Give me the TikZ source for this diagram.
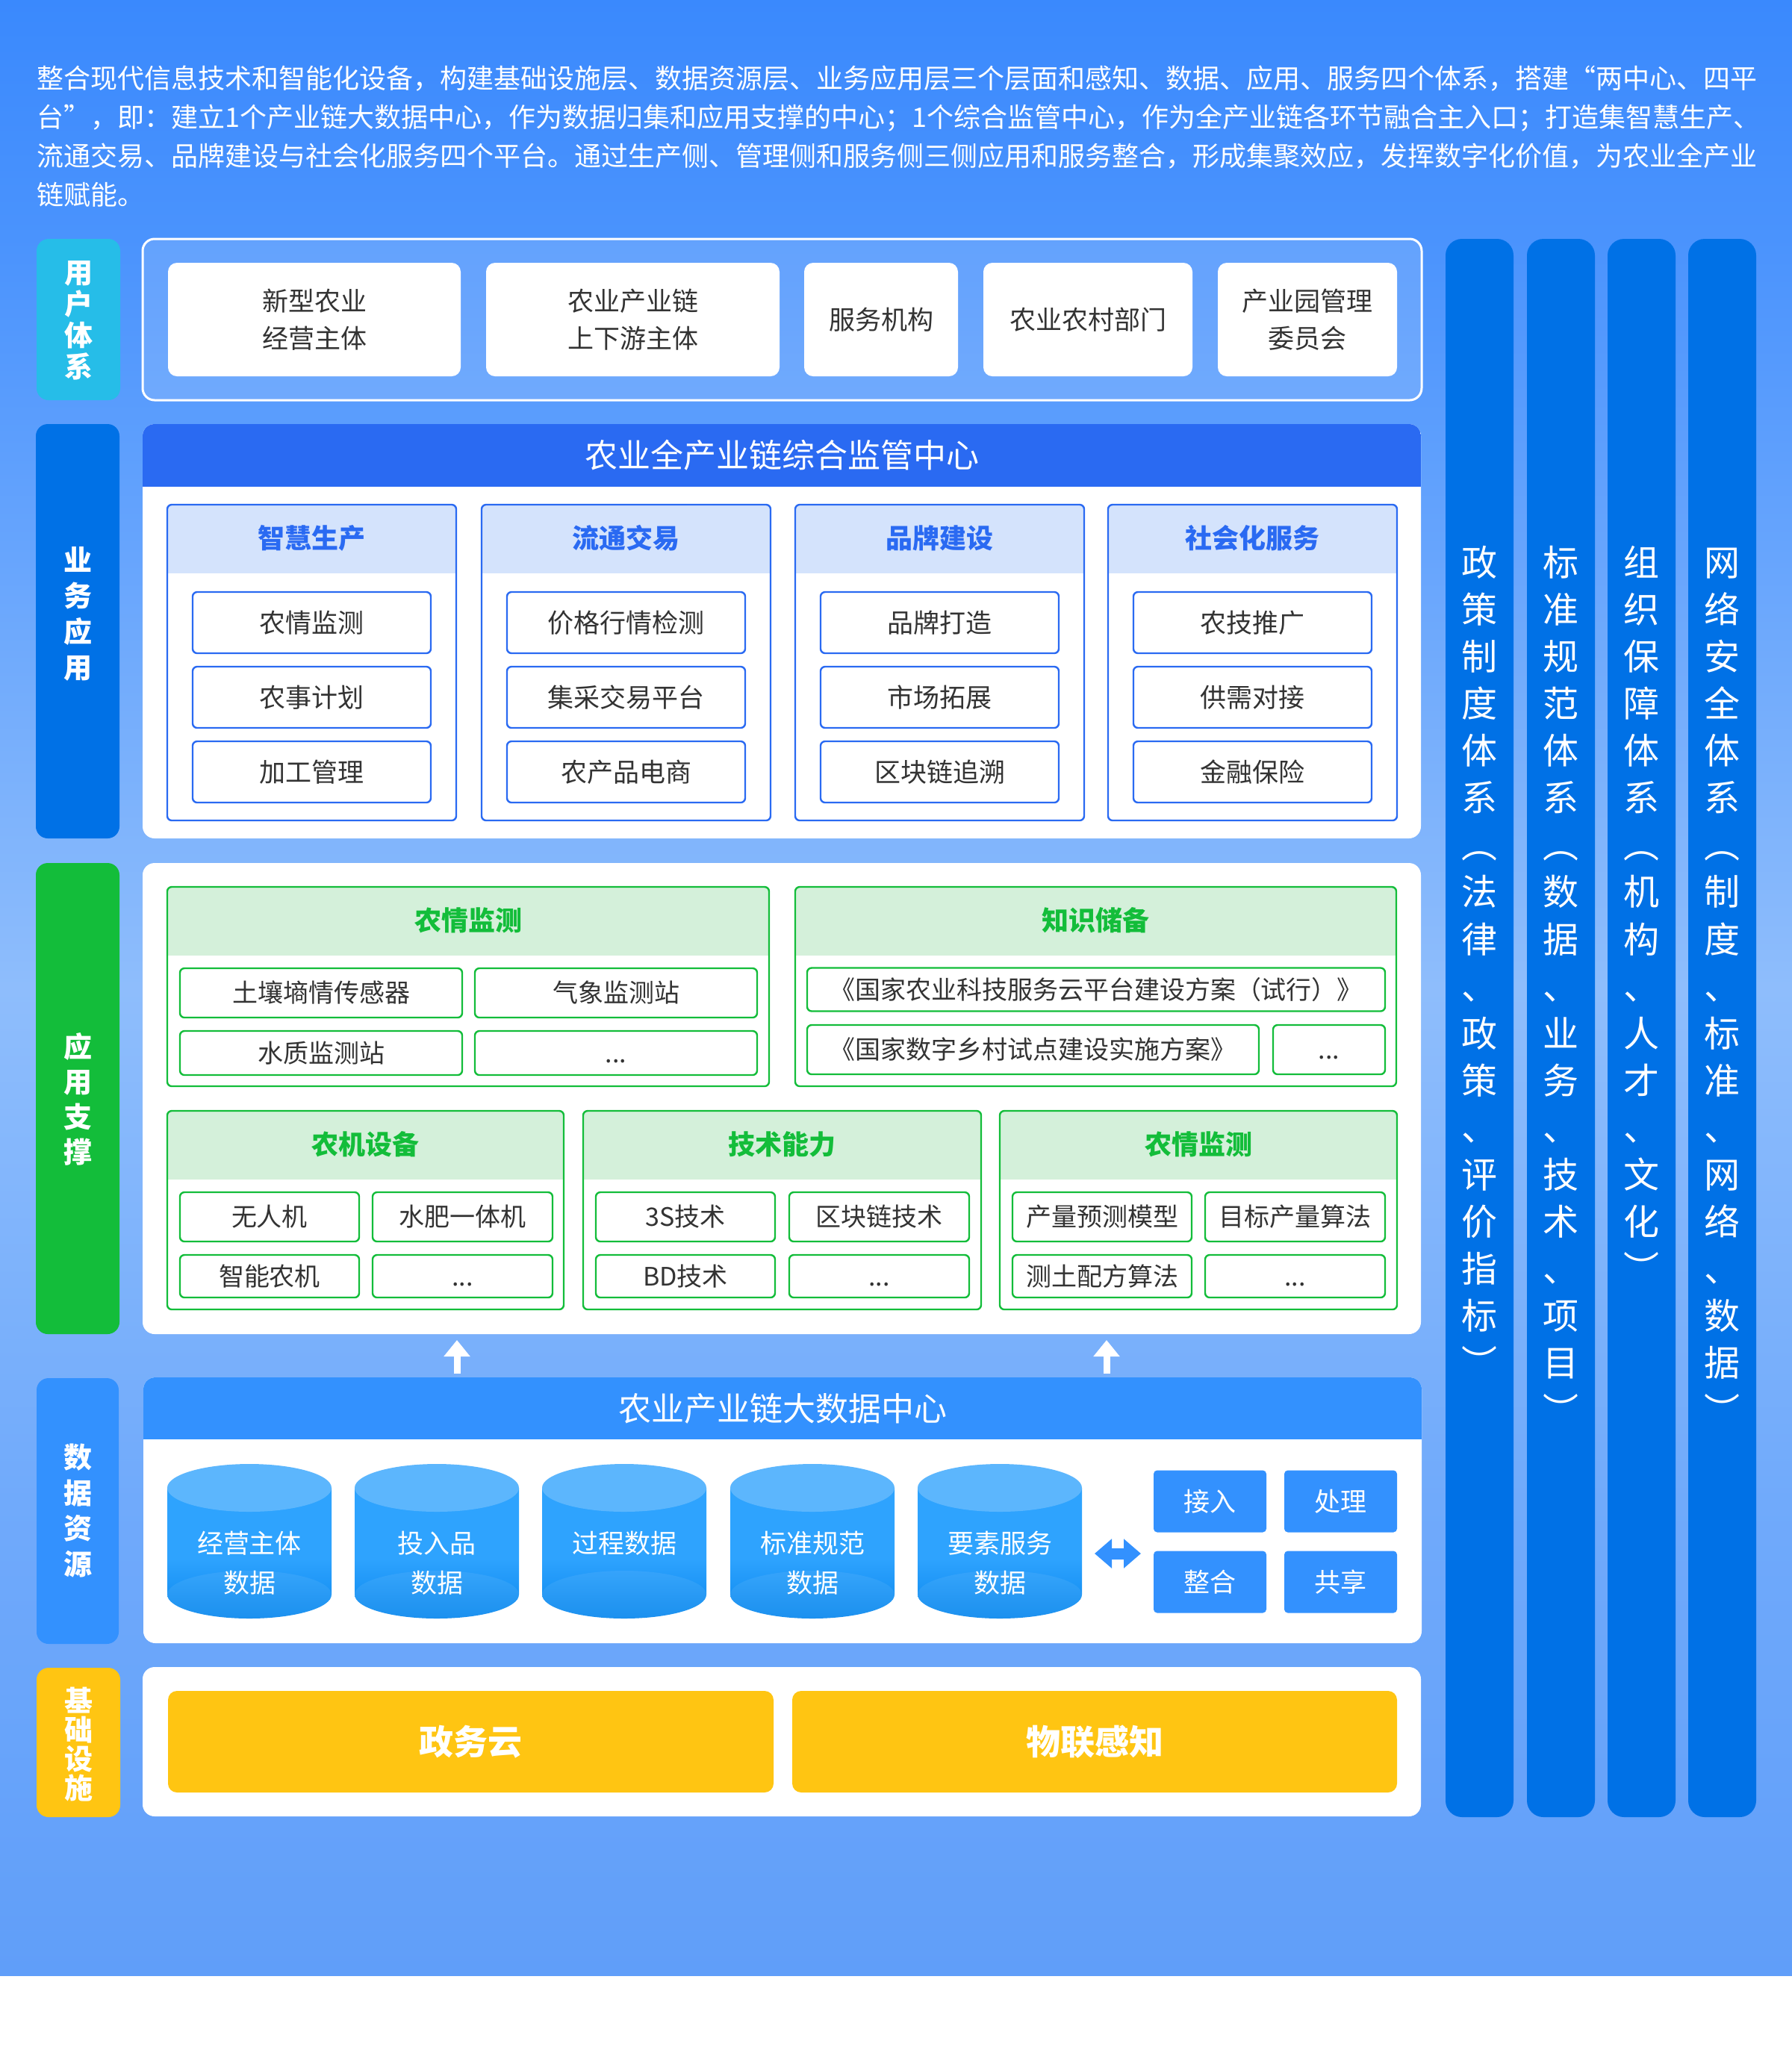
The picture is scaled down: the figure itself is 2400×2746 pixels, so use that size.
\documentclass[tikz,border=0pt]{standalone}
\usepackage{fontspec}
\setmainfont{Noto Sans CJK SC}
\XeTeXlinebreaklocale "zh"
\XeTeXlinebreakskip=0pt plus 1pt
\usetikzlibrary{arrows.meta}

\definecolor{bgA}{RGB}{58,137,253}
\definecolor{bgB}{RGB}{74,147,253}
\definecolor{bgC}{RGB}{142,189,252}
\definecolor{bgD}{RGB}{112,170,251}
\definecolor{bgE}{RGB}{96,158,249}
\definecolor{cyanL}{RGB}{38,189,232}
\definecolor{deepB}{RGB}{0,113,230}
\definecolor{hdrB}{RGB}{42,106,242}
\definecolor{lightB}{RGB}{212,227,252}
\definecolor{grn}{RGB}{19,189,58}
\definecolor{lightG}{RGB}{212,240,218}
\definecolor{midB}{RGB}{51,145,254}
\definecolor{cylTop}{RGB}{92,182,253}
\definecolor{cylBody}{RGB}{46,163,254}
\definecolor{cylDark}{RGB}{10,136,238}
\definecolor{yel}{RGB}{255,197,18}
\definecolor{txt}{RGB}{51,51,51}

\pgfdeclareverticalshading{bgshade}{100bp}{color(0bp)=(bgE); color(25bp)=(bgE); color(37bp)=(bgD); color(50bp)=(bgC); color(69bp)=(bgB); color(75bp)=(bgA); color(100bp)=(bgA)}
\pgfdeclareverticalshading{cylshade}{100bp}{color(0bp)=(cylDark); color(25bp)=(cylDark); color(48bp)=(cylBody); color(100bp)=(cylBody)}

\newcommand\myfs[2]{\fontsize{#1}{#2}\selectfont}
% group box: x0 y0 x1 y1 yheader border headfill radius
\newcommand\grpbox[8]{%
  \fill[white, rounded corners=#8] (#1,#2) rectangle (#3,#4);
  \begin{scope}
    \clip[rounded corners=#8] (#1,#2) rectangle (#3,#4);
    \fill[#7] (#1,#2) rectangle (#3,#5);
  \end{scope}
  \ifx\relax#6\relax\else
  \draw[#6, line width=0.6pt, rounded corners=#8] (#1,#2) rectangle (#3,#4);
  \fi}

\tikzset{
  cjk/.style={font=\myfs{#1}{#1}, text height={0.88*#1}, text depth={0.12*#1}, inner sep=0pt},
  cjkb/.style={font=\myfs{#1}{#1}\bfseries, text height={0.88*#1}, text depth={0.12*#1}, inner sep=0pt},
  useritem/.style={fill=white, rounded corners=3pt, inner sep=0pt, font=\myfs{8.75pt}{12.5pt}, text=txt, align=center, minimum height=38pt},
  bitem/.style={cjk=8.75pt, draw=hdrB, line width=0.6pt, fill=white, rounded corners=1.5pt, minimum width=79.75pt, minimum height=20.5pt, text=txt},
  gitem/.style={cjk=8.5pt, draw=grn, line width=0.6pt, fill=white, rounded corners=1.5pt, text=txt},
  bhead/.style={cjkb=9pt, text=hdrB},
  ghead/.style={cjkb=9pt, text=grn},
  ttl/.style={cjk=11pt, text=white},
  vlab/.style={cjkb=9.5pt, text=white},
  coltxt/.style={cjk=12pt, text=white},
  cyltxt/.style={cjk=8.75pt, text=white},
  sbox/.style={cjk=8.75pt, text=white, fill=midB, rounded corners=1.2pt, minimum width=37.75pt, minimum height=20.75pt},
  ybox/.style={cjkb=11.5pt, text=white, fill=yel, rounded corners=3pt, minimum height=34pt},
  para/.style={cjk=9pt, text=white, anchor=west},
  uparrow/.style={white, line width=2.25pt, -{Triangle[length=5.5pt,width=8.5pt]}},
  dblarrow/.style={midB, line width=3.75pt, {Triangle[length=5.75pt,width=9.5pt]}-{Triangle[length=5.75pt,width=9.5pt]}}
}

\begin{document}
\begin{tikzpicture}[x=0.25pt,y=-0.25pt]
\useasboundingbox (0,0) rectangle (2400,2746);
\fill[white] (0,0) rectangle (2400,2746);
\shade[shading=bgshade] (0,0) rectangle (2400,2646);

% ---------- intro paragraph ----------
\node[para] (p1) at (49,105) {\hbox to 575.25pt{整合现代信息技术和智能化设备，构建基础设施层、数据资源层、业务应用层三个层面和感知、数据、应用、服务四个体系，搭建“两中心、四平}};
\node[para] (p2) at (49,157) {\hbox to 575.25pt{台”，即：建立1个产业链大数据中心，作为数据归集和应用支撑的中心；1个综合监管中心，作为全产业链各环节融合主入口；打造集智慧生产、}};
\node[para] (p3) at (49,209) {\hbox to 575.25pt{流通交易、品牌建设与社会化服务四个平台。通过生产侧、管理侧和服务侧三侧应用和服务整合，形成集聚效应，发挥数字化价值，为农业全产业}};
\node[para] (p4) at (49,261) {链赋能。};

% ---------- right columns ----------
\foreach \xa/\xb in {1936/2027,2045/2136,2153/2244,2261/2352}
  \fill[deepB, rounded corners=5.5pt] (\xa,320) rectangle (\xb,2434);
\foreach \ch [count=\i from 0] in {政,策,制,度,体,系,︵,法,律,、,政,策,、,评,价,指,标,︶}
  \node[coltxt] (ca\i) at (1981.5,{753+63.1*\i}) {\ch};
\foreach \ch [count=\i from 0] in {标,准,规,范,体,系,︵,数,据,、,业,务,、,技,术,、,项,目,︶}
  \node[coltxt] (cb\i) at (2090.5,{753+63.1*\i}) {\ch};
\foreach \ch [count=\i from 0] in {组,织,保,障,体,系,︵,机,构,、,人,才,、,文,化,︶}
  \node[coltxt] (cc\i) at (2198.5,{753+63.1*\i}) {\ch};
\foreach \ch [count=\i from 0] in {网,络,安,全,体,系,︵,制,度,、,标,准,、,网,络,、,数,据,︶}
  \node[coltxt] (cd\i) at (2306.5,{753+63.1*\i}) {\ch};

% ---------- left labels ----------
\fill[cyanL, rounded corners=4pt] (49,320) rectangle (161,536);
\foreach \ch [count=\i from 0] in {用,户,体,系}
  \node[vlab] (lu\i) at (105,{365+42*\i}) {\ch};
\fill[deepB, rounded corners=4pt] (48,568) rectangle (160,1123);
\foreach \ch [count=\i from 0] in {业,务,应,用}
  \node[vlab] (lb\i) at (104,{750+48*\i}) {\ch};
\fill[grn, rounded corners=4pt] (48,1156) rectangle (160,1787);
\foreach \ch [count=\i from 0] in {应,用,支,撑}
  \node[vlab] (ls\i) at (104,{1402+47*\i}) {\ch};
\fill[midB, rounded corners=4pt] (49,1846) rectangle (159,2202);
\foreach \ch [count=\i from 0] in {数,据,资,源}
  \node[vlab] (ld\i) at (104,{1952+47.7*\i}) {\ch};
\fill[yel, rounded corners=4pt] (49,2234) rectangle (161,2434);
\foreach \ch [count=\i from 0] in {基,础,设,施}
  \node[vlab] (li\i) at (105,{2278+39*\i}) {\ch};

% ---------- user layer ----------
\draw[white, line width=0.75pt, fill=white, fill opacity=0.14, rounded corners=4pt] (191,320) rectangle (1904,536);
\node[useritem, minimum width=98pt] (u1) at (421,428) {新型农业\\经营主体};
\node[useritem, minimum width=98.25pt] (u2) at (847.5,428) {农业产业链\\上下游主体};
\node[useritem, minimum width=51.5pt] (u3) at (1180,428) {服务机构};
\node[useritem, minimum width=70pt] (u4) at (1457,428) {农业农村部门};
\node[useritem, minimum width=60pt] (u5) at (1751,428) {产业园管理\\委员会};

% ---------- business layer ----------
\grpbox{191}{568}{1903}{1123}{652}{}{hdrB}{4pt}
\node[ttl] (btitle) at (1047,610) {农业全产业链综合监管中心};
\foreach \x/\lab [count=\k] in {224/智慧生产,645/流通交易,1065/品牌建设,1484/社会化服务}{
  \grpbox{\x}{676}{\x+387}{1099}{768}{hdrB}{lightB}{1.5pt}
  \node[bhead] (bh\k) at (\x+193.5,721) {\lab};
}
\node[bitem] (b11) at (417.5,834) {农情监测};
\node[bitem] (b12) at (417.5,934) {农事计划};
\node[bitem] (b13) at (417.5,1034) {加工管理};
\node[bitem] (b21) at (838.5,834) {价格行情检测};
\node[bitem] (b22) at (838.5,934) {集采交易平台};
\node[bitem] (b23) at (838.5,1034) {农产品电商};
\node[bitem] (b31) at (1258.5,834) {品牌打造};
\node[bitem] (b32) at (1258.5,934) {市场拓展};
\node[bitem] (b33) at (1258.5,1034) {区块链追溯};
\node[bitem] (b41) at (1677.5,834) {农技推广};
\node[bitem] (b42) at (1677.5,934) {供需对接};
\node[bitem] (b43) at (1677.5,1034) {金融保险};

% ---------- application support layer ----------
\fill[white, rounded corners=4pt] (191,1156) rectangle (1903,1787);
\grpbox{224}{1188}{1030}{1455}{1280}{grn}{lightG}{1.5pt}
\grpbox{1065}{1188}{1870}{1455}{1280}{grn}{lightG}{1.5pt}
\grpbox{224}{1488}{755}{1754}{1580}{grn}{lightG}{1.5pt}
\grpbox{781}{1488}{1314}{1754}{1580}{grn}{lightG}{1.5pt}
\grpbox{1339}{1488}{1871}{1754}{1580}{grn}{lightG}{1.5pt}
\node[ghead] (g1) at (627,1233) {农情监测};
\node[ghead] (g2) at (1467.5,1233) {知识储备};
\node[ghead] (g3) at (489.5,1533) {农机设备};
\node[ghead] (g4) at (1047.5,1533) {技术能力};
\node[ghead] (g5) at (1605,1533) {农情监测};

\node[gitem, minimum width=94.5pt, minimum height=16.5pt] (g11) at (430,1330) {土壤墒情传感器};
\node[gitem, minimum width=94.5pt, minimum height=16.5pt] (g12) at (825,1330) {气象监测站};
\node[gitem, minimum width=94.5pt, minimum height=14.75pt] (g13) at (430,1410.5) {水质监测站};
\node[gitem, minimum width=94.5pt, minimum height=14.75pt] (g14) at (825,1410.5) {...};

\node[gitem, minimum width=193.5pt, minimum height=14.5pt] (g21) at (1468,1325.5) {《国家农业科技服务云平台建设方案（试行）》};
\node[gitem, minimum width=151.25pt, minimum height=16.5pt] (g22) at (1383.5,1406) {《国家数字乡村试点建设实施方案》};
\node[gitem, minimum width=37.5pt, minimum height=16.5pt] (g23) at (1780,1406) {...};

\node[gitem, minimum width=60pt, minimum height=16.5pt] (g31) at (361,1630) {无人机};
\node[gitem, minimum width=60.25pt, minimum height=16.5pt] (g32) at (619.5,1630) {水肥一体机};
\node[gitem, minimum width=60pt, minimum height=14.25pt] (g33) at (361,1709.5) {智能农机};
\node[gitem, minimum width=60.25pt, minimum height=14.25pt] (g34) at (619.5,1709.5) {...};

\node[gitem, minimum width=60pt, minimum height=16.5pt] (g41) at (918,1630) {3S技术};
\node[gitem, minimum width=60.25pt, minimum height=16.5pt] (g42) at (1177.5,1630) {区块链技术};
\node[gitem, minimum width=60pt, minimum height=14.25pt] (g43) at (918,1709.5) {BD技术};
\node[gitem, minimum width=60.25pt, minimum height=14.25pt] (g44) at (1177.5,1709.5) {...};

\node[gitem, minimum width=60pt, minimum height=16.5pt] (g51) at (1476,1630) {产量预测模型};
\node[gitem, minimum width=60.25pt, minimum height=16.5pt] (g52) at (1734.5,1630) {目标产量算法};
\node[gitem, minimum width=60pt, minimum height=14.25pt] (g53) at (1476,1709.5) {测土配方算法};
\node[gitem, minimum width=60.25pt, minimum height=14.25pt] (g54) at (1734.5,1709.5) {...};

% ---------- up arrows ----------
\coordinate (ua1s) at (612,1840);
\coordinate (ua1e) at (612,1795);
\coordinate (ua2s) at (1482,1840);
\coordinate (ua2e) at (1482,1795);
\draw[uparrow] (ua1s) -- (ua1e);
\draw[uparrow] (ua2s) -- (ua2e);

% ---------- data layer ----------
\grpbox{192}{1845}{1904}{2201}{1928}{}{midB}{4pt}
\node[ttl] (dtitle) at (1048,1887) {农业产业链大数据中心};
\foreach \x in {334,585,836,1088,1339}{
  \shade[shading=cylshade] (\x-110,1993) -- (\x-110,2136)
    .. controls (\x-110,2153.67) and (\x-60.75,2168) .. (\x,2168)
    .. controls (\x+60.75,2168) and (\x+110,2153.67) .. (\x+110,2136)
    -- (\x+110,1993) -- cycle;
  \fill[white, opacity=0.07] (\x,2136) ellipse [x radius=27.5pt, y radius=8pt];
  \fill[cylTop] (\x,1993) ellipse [x radius=27.5pt, y radius=8pt];
}
\node[cyltxt] (c1a) at (334,2067) {经营主体};
\node[cyltxt] (c1b) at (334,2120) {数据};
\node[cyltxt] (c2a) at (585,2067) {投入品};
\node[cyltxt] (c2b) at (585,2120) {数据};
\node[cyltxt] (c3a) at (836,2067) {过程数据};
\node[cyltxt] (c4a) at (1088,2067) {标准规范};
\node[cyltxt] (c4b) at (1088,2120) {数据};
\node[cyltxt] (c5a) at (1339,2067) {要素服务};
\node[cyltxt] (c5b) at (1339,2120) {数据};

\coordinate (da1) at (1466,2081);
\coordinate (da2) at (1528,2081);
\draw[dblarrow] (da1) -- (da2);

\node[sbox] (s1) at (1620.5,2011) {接入};
\node[sbox] (s2) at (1795.5,2011) {处理};
\node[sbox] (s3) at (1620.5,2119) {整合};
\node[sbox] (s4) at (1795.5,2119) {共享};

% ---------- infrastructure ----------
\fill[white, rounded corners=4pt] (191,2233) rectangle (1903,2433);
\node[ybox, minimum width=202.75pt] (y1) at (630.5,2333) {政务云};
\node[ybox, minimum width=202.5pt] (y2) at (1466,2333) {物联感知};

\end{tikzpicture}
\end{document}
